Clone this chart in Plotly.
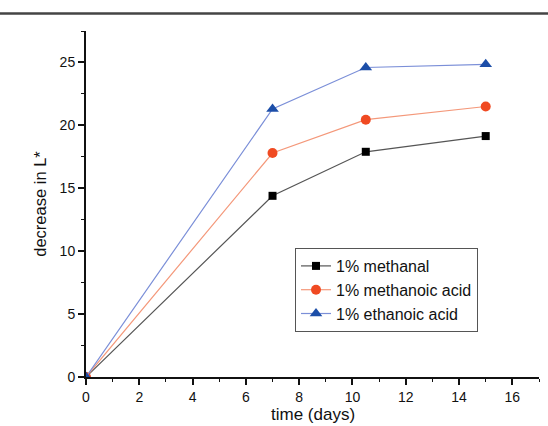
import plotly.graph_objects as go

days = [0, 7, 10.5, 15]
methanal = [0, 14.4, 17.9, 19.15]
methanoic_acid = [0, 17.8, 20.45, 21.5]
ethanoic_acid = [0, 21.3, 24.6, 24.85]

series = [
    ("1% methanal", methanal, "#555555", "#000000", "square", 8),
    ("1% methanoic acid", methanoic_acid, "#f4987a", "#f04a22", "circle", 10),
    ("1% ethanoic acid", ethanoic_acid, "#7b8fd8", "#1c4ea8", "triangle-up", 11),
]

fig = go.Figure()
for name, vals, lc, mc, sym, sz in series:
    fig.add_trace(go.Scatter(
        x=days, y=vals, name=name, mode="lines+markers",
        line=dict(color=lc, width=1.2),
        marker=dict(color=mc, symbol=sym, size=sz, line=dict(width=0)),
    ))

FONT = "Liberation Sans, Arial"
axis_common = dict(
    showgrid=False, zeroline=False, showline=True, linecolor="#111111", linewidth=2,
    ticks="outside", ticklen=6, tickwidth=1.5, tickcolor="#111111",
    tickfont=dict(family=FONT, size=14, color="#111111"),
    automargin=False,
)
minor_common = dict(ticks="outside", ticklen=3, tickwidth=1.2, tickcolor="#111111")

fig.update_layout(
    width=548, height=426,
    margin=dict(l=86, r=9, t=31, b=49),
    paper_bgcolor="white", plot_bgcolor="white",
    showlegend=True,
    legend=dict(
        x=(295 - 86) / 453, y=(377 - 248) / 346, xanchor="left", yanchor="top",
        bordercolor="#555555", borderwidth=1, bgcolor="white",
        font=dict(family=FONT, size=16, color="#111111"),
        tracegroupgap=0,
    ),
    xaxis=dict(range=[0, 17], tickvals=list(range(0, 17, 2)),
               minor=dict(tickvals=list(range(1, 18, 2)), **minor_common),
               **axis_common),
    yaxis=dict(range=[0, 27.5], tickvals=[0, 5, 10, 15, 20, 25],
               minor=dict(tickvals=[2.5, 7.5, 12.5, 17.5, 22.5, 27.5], **minor_common),
               title=dict(text="decrease in L*", font=dict(family=FONT, size=16.5, color="#111111"), standoff=9),
               **axis_common),
)

fig.add_annotation(text="time (days)", xref="paper", yref="paper",
                   x=0.5, y=(377 - 415) / 346, xanchor="center", yanchor="middle",
                   showarrow=False, font=dict(family=FONT, size=17, color="#111111"))

fig.add_shape(type="line", xref="paper", yref="paper",
              x0=-86/453, x1=(548-86)/453, y0=(426-49-13.5)/346, y1=(426-49-13.5)/346,
              line=dict(color="#444444", width=2.5))

fig.write_html("out.html")
